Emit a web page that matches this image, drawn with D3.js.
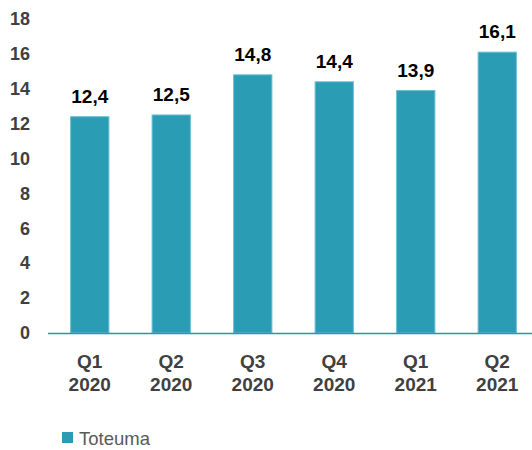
<!DOCTYPE html>
<html>
<head>
<meta charset="utf-8">
<script src="https://cdn.jsdelivr.net/npm/d3@7"></script>
<style>
  body { margin: 0; background: #fff; }
  svg { display: block; font-family: "Liberation Sans", Arial, sans-serif; }
</style>
</head>
<body>
<div id="chart"></div>
<script>
// data
const quarters = ['Q1', 'Q2', 'Q3', 'Q4', 'Q1', 'Q2'];
const years = ['2020', '2020', '2020', '2020', '2021', '2021'];
const values = [12.4, 12.5, 14.8, 14.4, 13.9, 16.1];
const yTicks = [0, 2, 4, 6, 8, 10, 12, 14, 16, 18];
const seriesName = 'Toteuma';

const width = 532, height = 450;
const barColor = '#2a9db5';
const textDark = '#404040';

const svg = d3.select('#chart').append('svg')
    .attr('width', width)
    .attr('height', height);

const keys = d3.range(values.length);

// SCALES
const x = d3.scaleBand()
    .domain(keys)
    .range([49, 538])
    .paddingInner(0.53)
    .paddingOuter(0.265);

const y = d3.scaleLinear()
    .domain([0, 18])
    .range([333, 19]);

// Y AXIS (labels only)
svg.append('g')
    .attr('transform', 'translate(30,0)')
    .call(d3.axisLeft(y).tickValues(yTicks).tickSize(0).tickPadding(0))
    .call(g => g.select('.domain').remove())
    .selectAll('text')
    .attr('fill', textDark)
    .attr('font-size', 18)
    .attr('font-weight', 'bold')
    .attr('font-family', '"Liberation Sans", Arial, sans-serif');

// BARS
svg.selectAll('rect.bar')
    .data(keys)
    .join('rect')
    .attr('class', 'bar')
    .attr('x', i => x(i))
    .attr('y', i => y(values[i]))
    .attr('width', x.bandwidth())
    .attr('height', i => y(0) - y(values[i]))
    .attr('fill', barColor)
    .attr('stroke', '#6cc0d2')
    .attr('stroke-width', 1);

// VALUE LABELS
svg.selectAll('text.val')
    .data(keys)
    .join('text')
    .attr('class', 'val')
    .attr('x', i => x(i) + x.bandwidth() / 2)
    .attr('y', i => y(values[i]) - 14)
    .attr('text-anchor', 'middle')
    .attr('font-size', 19)
    .attr('font-weight', 'bold')
    .attr('fill', '#000')
    .text(i => d3.format('.1f')(values[i]).replace('.', ','));

// X AXIS
const xAxis = svg.append('g')
    .attr('transform', `translate(0,${y(0)})`)
    .call(d3.axisBottom(x).tickSize(0).tickFormat(''));
xAxis.select('.domain')
    .attr('d', `M48,0.5H${width}`)
    .attr('stroke', '#1f9ab4')
    .attr('stroke-width', 1.5);

const xLabels = svg.selectAll('text.xl')
    .data(keys)
    .join('text')
    .attr('class', 'xl')
    .attr('text-anchor', 'middle')
    .attr('font-size', 19)
    .attr('font-weight', 'bold')
    .attr('fill', textDark);
xLabels.append('tspan')
    .attr('x', i => x(i) + x.bandwidth() / 2)
    .attr('y', 368)
    .text(i => quarters[i]);
xLabels.append('tspan')
    .attr('x', i => x(i) + x.bandwidth() / 2)
    .attr('y', 391)
    .text(i => years[i]);

// LEGEND
const legend = svg.append('g').attr('transform', 'translate(62,432)');
legend.append('rect')
    .attr('width', 11)
    .attr('height', 11)
    .attr('fill', barColor);
legend.append('text')
    .attr('x', 17)
    .attr('y', 13)
    .attr('font-size', 18.5)
    .attr('fill', '#595959')
    .text(seriesName);
</script>
</body>
</html>
